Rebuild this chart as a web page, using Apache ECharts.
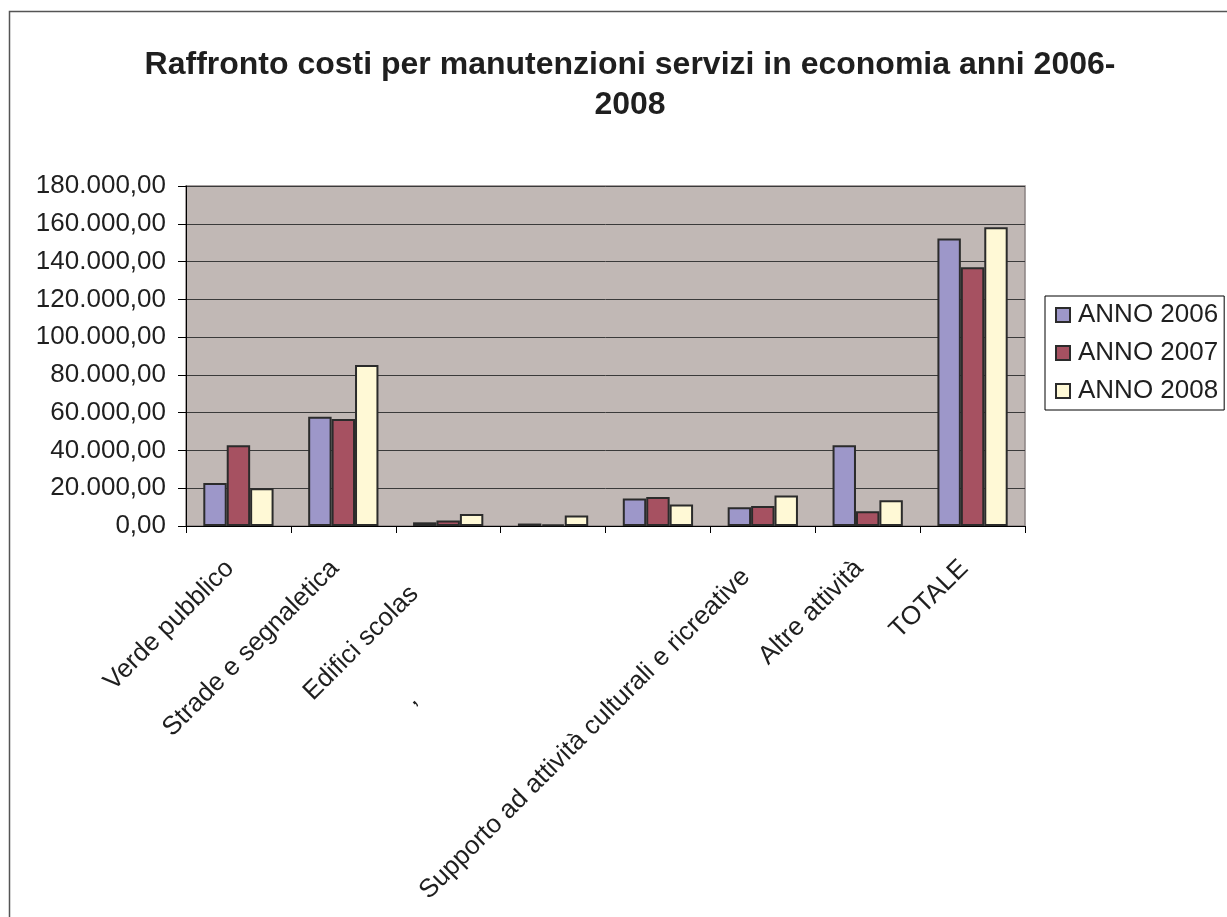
<!DOCTYPE html>
<html>
<head>
<meta charset="utf-8">
<title>Raffronto costi per manutenzioni servizi in economia anni 2006-2008</title>
<script src="https://cdn.jsdelivr.net/npm/echarts@6/dist/echarts.min.js"></script>
<style>
  html, body { margin: 0; padding: 0; background: #ffffff; }
  #chart { width: 1227px; height: 917px; }
</style>
</head>
<body>
<div id="chart"></div>
<script>
// Category labels as they appear under the axis
const categories = [
  'Verde pubblico',
  'Strade e segnaletica',
  'Edifici scolas',
  ',',
  '',
  'Supporto ad attività culturali e ricreative',
  'Altre attività',
  'TOTALE'
];

// Costs per year (euro)
const anno2006 = [22800, 57800, 1950, 1300, 14500, 9900, 42800, 152200];
const anno2007 = [42700, 56600, 2850, 900, 15400, 10600, 7800, 137000];
const anno2008 = [20000, 85200, 6400, 5500, 11400, 16100, 13600, 158200];

const seriesNames = ['ANNO 2006', 'ANNO 2007', 'ANNO 2008'];

// Value axis ticks
const yMin = 0;
const yMax = 180000;
const yStep = 20000;

const FONT = '"Liberation Sans", Arial, Helvetica, sans-serif';
const TEXT = '#1f1f1f';
const colors = ['#9D97C9', '#A65161', '#FFF9D6'];

// Italian number format: 180.000,00
function fmtIt(v) {
  const s = Math.round(v).toString().replace(/\B(?=(\d{3})+(?!\d))/g, '.');
  return s + ',00';
}

// right padding slides each rotated label down along its diagonal
const labelShift = [12, 12, 48, 198, 12, 24, 12, 12];
const rich = {};
labelShift.forEach((p, i) => {
  rich['c' + i] = {
    fontFamily: FONT, fontSize: 26, color: TEXT,
    padding: [0, p, 0, 0]
  };
});

const chart = echarts.init(document.getElementById('chart'), null, { renderer: 'canvas' });

const data = [anno2006, anno2007, anno2008];

chart.setOption({
  backgroundColor: '#ffffff',
  animation: false,
  title: {
    text: 'Raffronto costi per manutenzioni servizi in economia anni 2006-\n2008',
    left: 625,
    top: 40,
    textAlign: 'center',
    textStyle: {
      fontFamily: FONT,
      fontWeight: 'bold',
      fontSize: 32,
      lineHeight: 40,
      color: TEXT
    }
  },
  graphic: [{
    type: 'rect',
    shape: { x: 9.5, y: 11.5, width: 1300, height: 1000 },
    style: { fill: 'none', stroke: '#555555', lineWidth: 1.5 },
    silent: true,
    z: -1
  }],
  legend: {
    orient: 'vertical',
    left: 1045,
    top: 296,
    padding: [6, 6, 6, 10],
    itemGap: 12,
    itemWidth: 14,
    itemHeight: 14,
    borderColor: '#000000',
    borderWidth: 1,
    icon: 'rect',
    data: seriesNames,
    itemStyle: { borderColor: '#2b2b2b', borderWidth: 2 },
    textStyle: {
      fontFamily: FONT,
      fontSize: 26,
      lineHeight: 26,
      color: TEXT,
      padding: [0, 0, 0, 3]
    }
  },
  grid: {
    left: 186,
    top: 186,
    width: 839,
    height: 340,
    show: true,
    backgroundColor: '#C1B8B5',
    borderColor: '#8a8282',
    borderWidth: 1.5
  },
  xAxis: {
    type: 'category',
    data: categories,
    boundaryGap: true,
    axisLine: { show: true, lineStyle: { color: '#000000', width: 1 } },
    axisTick: { show: true, alignWithLabel: false, length: 7, inside: false, lineStyle: { color: '#000000' } },
    axisLabel: {
      interval: 0,
      rotate: 45,
      margin: 30,
      fontFamily: FONT,
      fontSize: 26,
      color: TEXT,
      formatter: (v, i) => '{c' + i + '|' + v + '}',
      rich: rich
    },
    splitLine: { show: false }
  },
  yAxis: {
    type: 'value',
    min: yMin,
    max: yMax,
    interval: yStep,
    axisLine: { show: true, lineStyle: { color: '#000000', width: 1 } },
    axisTick: { show: true, length: 8, lineStyle: { color: '#000000' } },
    axisLabel: {
      margin: 20,
      fontFamily: FONT,
      fontSize: 26,
      color: TEXT,
      formatter: fmtIt
    },
    splitLine: { show: true, lineStyle: { color: '#3a3a3a', width: 1 } }
  },
  series: seriesNames.map((name, k) => ({
    name: name,
    type: 'bar',
    data: data[k],
    barGap: '0%',
    barCategoryGap: '33%',
    itemStyle: {
      color: colors[k],
      borderColor: '#2b2b2b',
      borderWidth: 2
    }
  }))
});
</script>
</body>
</html>
